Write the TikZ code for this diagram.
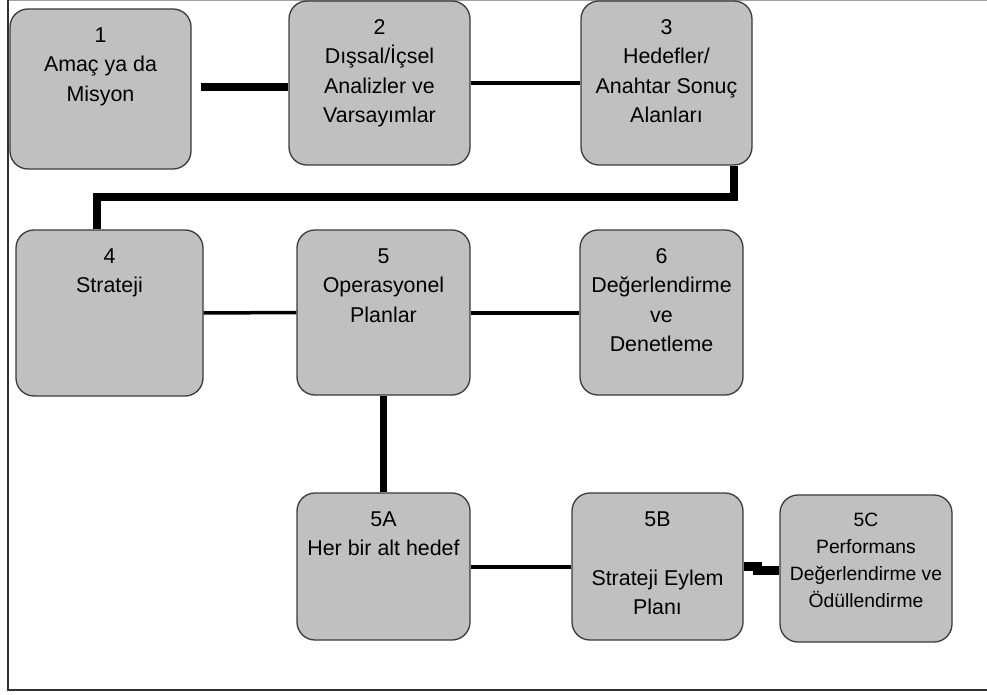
\documentclass[tikz,border=0pt]{standalone}
\usepackage{fontspec}
\setmainfont{Liberation Sans}
\definecolor{boxfill}{HTML}{C0C0C0}
\definecolor{boxline}{HTML}{3A3A3A}
\definecolor{framecol}{HTML}{303030}
\definecolor{framelight}{HTML}{A0A0A0}
\begin{document}
\begin{tikzpicture}[x=1pt,y=-1pt,
  box/.style={draw=boxline, fill=boxfill, line width=1.3pt, rounded corners=18pt, inner sep=0pt},
  lbl/.style={anchor=north, align=center, inner sep=0pt, text=black, font=\fontsize{21.4}{29.5}\selectfont},
  lblsmall/.style={lbl, font=\fontsize{19.3}{27}\selectfont},
  wire/.style={draw=black, line width=#1, line join=miter}
]
\useasboundingbox (0,0) rectangle (987,695);
% frame
\draw[framelight, line width=1pt] (8,1) -- (995,1);
\draw[framecol, line width=1.5pt] (8,-2) -- (8,690) -- (995,690);

% boxes
\node[box, minimum width=181pt, minimum height=160pt] (b1) at (100.5,89) {};
\node[box, minimum width=181pt, minimum height=164pt] (b2) at (379.5,83) {};
\node[box, minimum width=171pt, minimum height=164pt] (b3) at (666.5,83) {};
\node[box, minimum width=187pt, minimum height=166pt] (b4) at (109.5,313) {};
\node[box, minimum width=173pt, minimum height=165pt] (b5) at (383.5,312.5) {};
\node[box, minimum width=163pt, minimum height=165pt] (b6) at (661.5,312.5) {};
\node[box, minimum width=173pt, minimum height=147pt] (b5A) at (383.5,566.5) {};
\node[box, minimum width=171pt, minimum height=147pt] (b5B) at (657.5,566.5) {};
\node[box, minimum width=172pt, minimum height=147pt] (b5C) at (866,568.5) {};

% labels
\node[lbl, below=19pt] (t1) at (b1.north) {1\\Amaç ya da\\Misyon};
\node[lbl, below=19pt] (t2) at (b2.north) {2\\Dışsal/İçsel\\Analizler ve\\Varsayımlar};
\node[lbl, below=19pt] (t3) at (b3.north) {3\\Hedefler/\\Anahtar Sonuç\\Alanları};
\node[lbl, below=19pt] (t4) at (b4.north) {4\\Strateji};
\node[lbl, below=19pt] (t5) at (b5.north) {5\\Operasyonel\\Planlar};
\node[lbl, below=19pt] (t6) at (b6.north) {6\\Değerlendirme\\ve\\Denetleme};
\node[lbl, below=19pt] (t5A) at (b5A.north) {5A\\Her bir alt hedef};
\node[lbl, below=19pt] (t5B) at (b5B.north) {5B\\\mbox{}\\Strateji Eylem\\Planı};
\node[lblsmall, below=18pt] (t5C) at (b5C.north) {5C\\Performans\\Değerlendirme ve\\Ödüllendirme};

% connectors
\draw[wire=8pt, shorten <=9pt] (b1.east |- 0,87) -- (b2.west |- 0,87);
\draw[wire=3.5pt] (b2.east) -- (b3.west);
\draw[wire=8pt] (b3.south -| 734,0) -- (734,197) -- (97,197) -- (b4.north -| 97,0);
\draw[wire=3.5pt] (b4.east) -- (b5.west);
\draw[wire=4pt] (b5.east) -- (b6.west);
\draw[wire=6.5pt] (b5.south) -- (b5A.north);
\draw[wire=4pt] (b5A.east) -- (b5B.west);
\draw[wire=9pt] (b5B.east |- 0,566) -- (757,566) -- (757,570) -- (b5C.west |- 0,570);
\end{tikzpicture}
\end{document}
